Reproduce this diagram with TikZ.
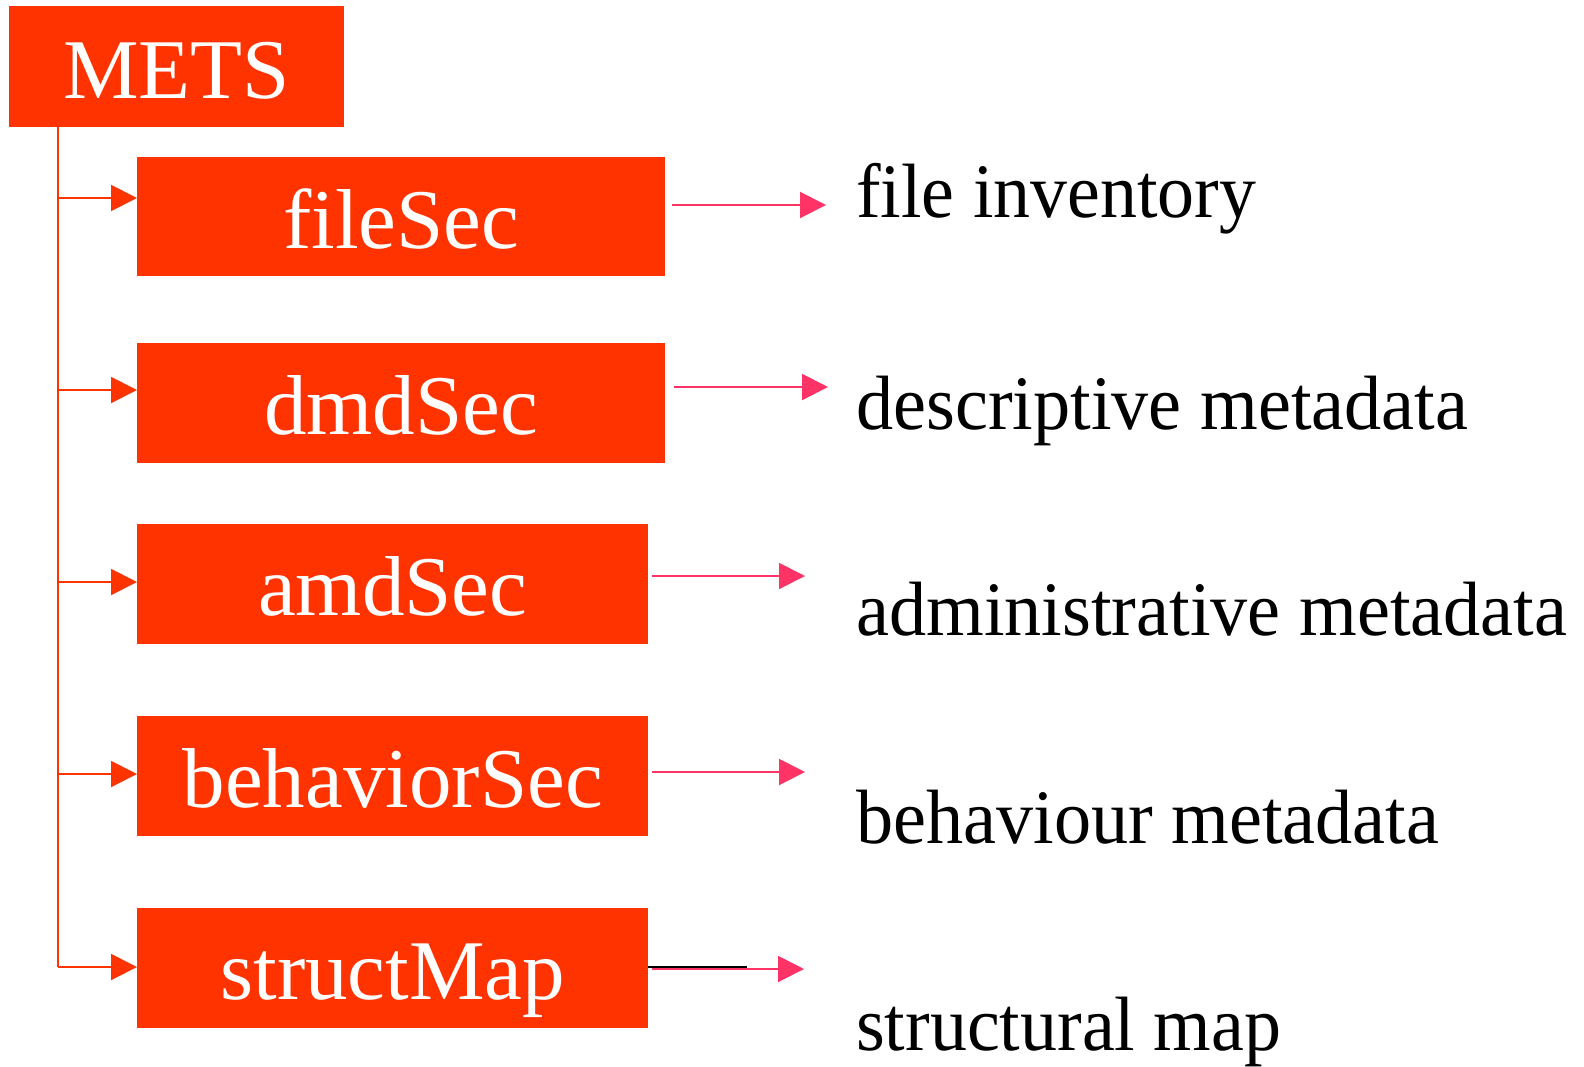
\documentclass[tikz,border=0pt]{standalone}
\usepackage{fontspec}
\setmainfont{Liberation Serif}
\usetikzlibrary{arrows.meta}
\definecolor{boxred}{HTML}{FF3300}
\definecolor{arrpink}{HTML}{FF3366}
\newcommand{\fitw}[2]{\resizebox{#1}{\height}{#2}}
\tikzset{
 secbox/.style={fill=boxred, draw=none, anchor=north west, inner sep=0pt, text=white,
   font=\fontsize{85}{90}\selectfont, text height=70pt, text depth=7pt},
 treeline/.style={draw=boxred, line width=2pt},
 treearrow/.style={treeline, -{Triangle[length=26pt,width=26pt]}},
 outarrow/.style={draw=arrpink, line width=2pt, -{Triangle[length=26pt,width=26pt]}},
 desc/.style={anchor=base west, inner sep=0pt, font=\fontsize{77}{84}\selectfont},
}
\begin{document}
\begin{tikzpicture}[x=1pt,y=-1pt]
\useasboundingbox (0,0) rectangle (1584,1066);
% boxes
\node[secbox, minimum width=335pt, minimum height=121pt] (mets) at (9,6) {METS};
\node[secbox, minimum width=528pt, minimum height=119pt] (fs) at (137,157) {fileSec};
\node[secbox, minimum width=528pt, minimum height=120pt] (dmd) at (137,343) {dmdSec};
\node[secbox, minimum width=511pt, minimum height=120pt] (amd) at (137,524) {amdSec};
\node[secbox, minimum width=511pt, minimum height=120pt] (beh) at (137,716) {behaviorSec};
\node[secbox, minimum width=511pt, minimum height=120pt] (sm) at (137,908) {structMap};
% labels
\node[desc] (l1) at (856,217) {\fitw{400pt}{file inventory}};
\node[desc] (l2) at (856,429) {\fitw{612pt}{descriptive metadata}};
\node[desc] (l3) at (856,635) {\fitw{711pt}{administrative metadata}};
\node[desc] (l4) at (856,843) {\fitw{583pt}{behaviour metadata}};
\node[desc] (l5) at (856,1050) {\fitw{425pt}{structural map}};
% tree
\coordinate (t1) at (58,198);
\coordinate (t2) at (58,390);
\coordinate (t3) at (58,582);
\coordinate (t4) at (58,774);
\coordinate (t5) at (58,967);
\draw[treeline] (t1 |- mets.south) -- (t5);
\draw[treearrow] (t1) -- (t1 -| fs.west);
\draw[treearrow] (t2) -- (t2 -| dmd.west);
\draw[treearrow] (t3) -- (t3 -| amd.west);
\draw[treearrow] (t4) -- (t4 -| beh.west);
\draw[treearrow] (t5) -- (t5 -| sm.west);
% outgoing arrows
\coordinate (a1s) at (672,205); \coordinate (a1e) at (826,205);
\coordinate (a2s) at (674,387); \coordinate (a2e) at (828,387);
\coordinate (a3s) at (652,576); \coordinate (a3e) at (805,576);
\coordinate (a4s) at (652,772); \coordinate (a4e) at (805,772);
\coordinate (a5s) at (652,969); \coordinate (a5e) at (804,969);
\draw[outarrow] (a1s) -- (a1e);
\draw[outarrow] (a2s) -- (a2e);
\draw[outarrow] (a3s) -- (a3e);
\draw[outarrow] (a4s) -- (a4e);
\draw[outarrow] (a5s) -- (a5e);
\coordinate (bk) at (747,967);
\draw[black, line width=2pt] (sm.east |- bk) -- (bk);
\end{tikzpicture}
\end{document}
